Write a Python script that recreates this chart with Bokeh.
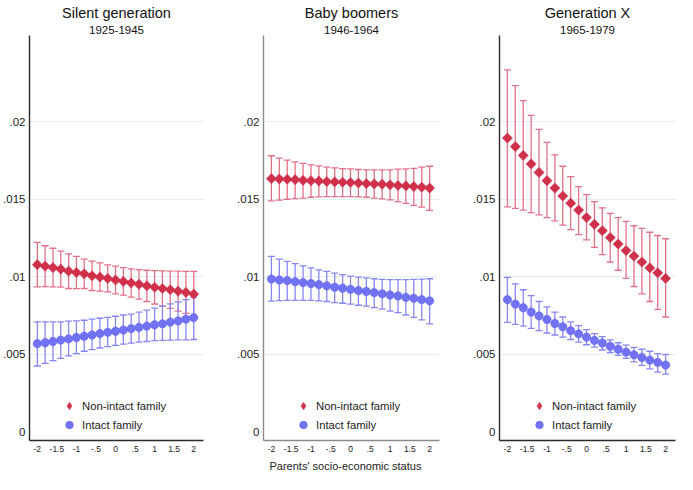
import math
from bokeh.plotting import figure
from bokeh.models import (Range1d, FixedTicker, ColumnDataSource, Whisker, TeeHead,
                          Legend, LegendItem, Title)
from bokeh.layouts import row
from bokeh.embed import file_html
from bokeh.resources import INLINE

# ---------------- data ----------------
x_status = [-2.0, -1.8, -1.6, -1.4, -1.2, -1.0, -0.8, -0.6, -0.4, -0.2, 0.0,
            0.2, 0.4, 0.6, 0.8, 1.0, 1.2, 1.4, 1.6, 1.8, 2.0]
x_ticks = [-2.0, -1.5, -1.0, -0.5, 0.0, 0.5, 1.0, 1.5, 2.0]
x_tick_labels = ["-2", "-1.5", "-1", "-.5", "0", ".5", "1", "1.5", "2"]
y_ticks = [0.0, 0.005, 0.01, 0.015, 0.02]
y_tick_labels = ["0", ".005", ".01", ".015", ".02"]

panel_titles = ["Silent generation", "Baby boomers", "Generation X"]
panel_years = ["1925-1945", "1946-1964", "1965-1979"]
series_names = ["Non-intact family", "Intact family"]
x_label = "Parents' socio-economic status"

# Silent generation
silent_nonintact = [.01078, .01068, .01059, .01049, .01036, .01027, .01019, .01006, .00998, .00989, .00979,
                    .0097, .0096, .00951, .00941, .00932, .00924, .00916, .00907, .00899, .00888]
silent_nonintact_hi = [.01222, .012, .01184, .01165, .01148, .01131, .01114, .01101, .01089, .01076, .01068,
                       .01059, .01051, .01046, .01042, .0104, .01038, .01036, .01036, .01034, .01034]
silent_nonintact_lo = [.00934, .00936, .00934, .00933, .00924, .00923, .00924, .00911, .00907, .00902, .0089,
                       .00881, .00869, .00856, .0084, .00824, .0081, .00796, .00778, .00764, .00742]
silent_intact = [.00568, .00574, .00582, .00591, .00599, .00608, .00616, .00624, .00633, .00641, .00648,
                 .00656, .00665, .00673, .00681, .0069, .00696, .00707, .00715, .00726, .00736]
silent_intact_hi = [.00709, .00709, .00709, .00709, .00713, .00715, .00719, .00726, .00732, .00738, .00745,
                    .00753, .00759, .00772, .00785, .00797, .0081, .00825, .00838, .00852, .00867]
silent_intact_lo = [.00424, .00441, .00458, .00473, .00489, .00504, .00519, .0053, .0054, .00549, .00557,
                    .00565, .00572, .00578, .00582, .00587, .00589, .00591, .00593, .00593, .00595]

# Baby boomers
boomer_nonintact = [.01633, .01631, .01629, .01627, .01622, .0162, .01618, .01614, .01612, .0161, .01608,
                    .01605, .01601, .01599, .01597, .01593, .01589, .01586, .01582, .01578, .01572]
boomer_nonintact_hi = [.01781, .01766, .01753, .01741, .01732, .01722, .01715, .01707, .01703, .01698, .01696,
                       .01692, .0169, .0169, .0169, .0169, .01694, .01696, .017, .01707, .01713]
boomer_nonintact_lo = [.01489, .01494, .015, .01504, .01508, .01513, .01515, .01517, .01517, .01517, .01517,
                       .01515, .01513, .01508, .01502, .01496, .01485, .01473, .0146, .01449, .01428]
boomer_intact = [.00985, .00979, .00975, .00968, .00962, .00956, .00949, .00941, .00932, .00926, .00918,
                 .00911, .00905, .00897, .0089, .00882, .00876, .00867, .00861, .00852, .00844]
boomer_intact_hi = [.01131, .01114, .01099, .01084, .0107, .01057, .01044, .01034, .01023, .01013, .01004,
                    .00998, .00992, .00987, .00983, .00981, .00981, .00981, .00983, .00985, .00987]
boomer_intact_lo = [.00842, .00846, .00848, .00848, .00848, .00848, .00844, .0084, .00833, .00829, .00823,
                    .00816, .0081, .008, .00791, .00778, .00768, .00753, .00738, .00722, .00696]

# Generation X
genx_nonintact = [.01895, .0184, .01783, .01728, .01673, .0162, .01572, .01521, .01475, .0143, .01382,
                  .01338, .01297, .01253, .01211, .01169, .01133, .01095, .01057, .01025, .00989]
genx_nonintact_hi = [.02335, .02234, .02137, .02042, .01951, .01867, .01787, .01713, .01646, .01582, .0153,
                     .01485, .01445, .01409, .01382, .01357, .01329, .01312, .01287, .01266, .01245]
genx_nonintact_lo = [.01451, .01441, .0143, .01414, .01399, .01382, .01361, .01333, .01304, .01272, .01238,
                     .0119, .01143, .01095, .01042, .00989, .00937, .0089, .0084, .00789, .0074]
genx_intact = [.00852, .00823, .008, .00772, .00747, .00724, .00698, .00677, .00652, .00631, .0061,
               .00589, .00572, .00551, .00532, .00513, .00496, .00479, .00462, .00447, .0043]
genx_intact_hi = [.00996, .00954, .00916, .00878, .0084, .00806, .00772, .0074, .00709, .00684, .00658,
                  .00633, .00614, .00593, .00574, .00559, .00544, .00532, .00519, .00504, .00498]
genx_intact_lo = [.00705, .00692, .00681, .00667, .00652, .00637, .00624, .0061, .00595, .00578, .00561,
                  .00546, .00527, .00511, .00492, .00473, .00451, .00428, .00405, .00384, .00371]

# ---------------- style ----------------
FONT = "Liberation Sans"
RED = "#d1304b"
RED_BAR = "#e37186"
BLUE = "#7272f4"
BLUE_BAR = "#8686f7"
GRID = "#e3f0f0"
H = 474


def make_panel(i, width, left, right, nonintact, non_lo, non_hi, intact, int_lo, int_hi,
               axis_color, with_xlabel=False):
    p = figure(width=width, height=H, x_range=Range1d(-2.2, 2.25),
               y_range=Range1d(-0.00057, 0.02557), output_backend="svg",
               toolbar_location=None, min_border_left=left, min_border_right=right,
               min_border_top=35, min_border_bottom=34, title=panel_titles[i])
    p.title.align = "center"
    p.title.text_font = FONT
    p.title.text_font_size = "14.5px"
    p.title.text_font_style = "normal"
    p.title.text_color = "#111111"
    p.title.standoff = 1
    p.add_layout(Title(text=panel_years[i], align="center", text_font=FONT,
                       text_font_size="11.5px", text_font_style="normal",
                       text_color="#111111", standoff=4), "above")
    p.outline_line_color = None
    p.background_fill_color = "white"
    p.border_fill_color = "white"

    src_r = ColumnDataSource(dict(x=x_status, y=nonintact, lo=non_lo, hi=non_hi))
    src_b = ColumnDataSource(dict(x=x_status, y=intact, lo=int_lo, hi=int_hi))

    for src, col in ((src_r, RED_BAR), (src_b, BLUE_BAR)):
        w = Whisker(base="x", lower="lo", upper="hi", source=src, line_color=col,
                    line_width=1.3,
                    upper_head=TeeHead(size=7, line_color=col, line_width=1.3),
                    lower_head=TeeHead(size=7, line_color=col, line_width=1.3))
        p.add_layout(w)

    # diamond renderer (used as legend key; legend glyphs are never rotated),
    # drawn underneath the rotated-square markers that cover it
    r_red_key = p.scatter("x", "y", source=src_r, marker="diamond", size=8.5,
                          fill_color=RED, line_color=RED, line_width=0.5)
    p.scatter("x", "y", source=src_r, marker="square", angle=math.pi / 4, size=7.2,
              fill_color=RED, line_color=RED, line_width=0.5)
    r_blue = p.scatter("x", "y", source=src_b, marker="circle", size=8.3,
                       fill_color=BLUE, line_color="#6262ef", line_width=0.6)

    legend = Legend(items=[LegendItem(label=series_names[0], renderers=[r_red_key]),
                           LegendItem(label=series_names[1], renderers=[r_blue])],
                    location=(29, 6), padding=0, margin=0, spacing=0,
                    glyph_width=22, glyph_height=19, label_height=19, label_standoff=2,
                    label_text_font=FONT, label_text_font_size="11.3px",
                    label_text_color="#222222", border_line_color=None,
                    background_fill_alpha=0)
    p.add_layout(legend)

    p.xaxis.ticker = FixedTicker(ticks=x_ticks)
    p.xaxis.major_label_overrides = dict(zip(x_ticks, x_tick_labels))
    p.yaxis.ticker = FixedTicker(ticks=y_ticks)
    p.yaxis.major_label_overrides = dict(zip(y_ticks, y_tick_labels))
    for ax in (p.xaxis, p.yaxis):
        ax.axis_line_color = axis_color
        ax.axis_line_width = 1.4
        ax.major_tick_line_color = None
        ax.minor_tick_line_color = None
        ax.major_tick_out = 0
        ax.major_tick_in = 0
        ax.minor_tick_out = 0
        ax.minor_tick_in = 0
        ax.major_label_text_font = FONT
        ax.major_label_text_color = "#222222"
    p.xaxis.major_label_standoff = 5
    p.yaxis.major_label_standoff = 4
    p.xaxis.major_label_text_font_size = "8.5px"
    p.yaxis.major_label_text_font_size = "11.5px"

    p.xgrid.visible = False
    p.ygrid.ticker = FixedTicker(ticks=[0.005, 0.01, 0.015, 0.02])
    p.ygrid.grid_line_color = GRID
    p.ygrid.grid_line_width = 1

    if with_xlabel:
        p.add_layout(Title(text=x_label, align="left", offset=6, text_font=FONT,
                           text_font_size="11px", text_font_style="normal",
                           text_color="#222222", standoff=6), "below")
    return p


p1 = make_panel(0, 211, 27, 8, silent_nonintact, silent_nonintact_lo, silent_nonintact_hi,
                silent_intact, silent_intact_lo, silent_intact_hi, "#2a2a2a")
p2 = make_panel(1, 236, 52, 8, boomer_nonintact, boomer_nonintact_lo, boomer_nonintact_hi,
                boomer_intact, boomer_intact_lo, boomer_intact_hi, "#8a8a8a", with_xlabel=True)
p3 = make_panel(2, 230, 52, 2, genx_nonintact, genx_nonintact_lo, genx_nonintact_hi,
                genx_intact, genx_intact_lo, genx_intact_hi, "#2a2a2a")

layout = row(p1, p2, p3)
open("out.html", "w").write(file_html(layout, INLINE))
